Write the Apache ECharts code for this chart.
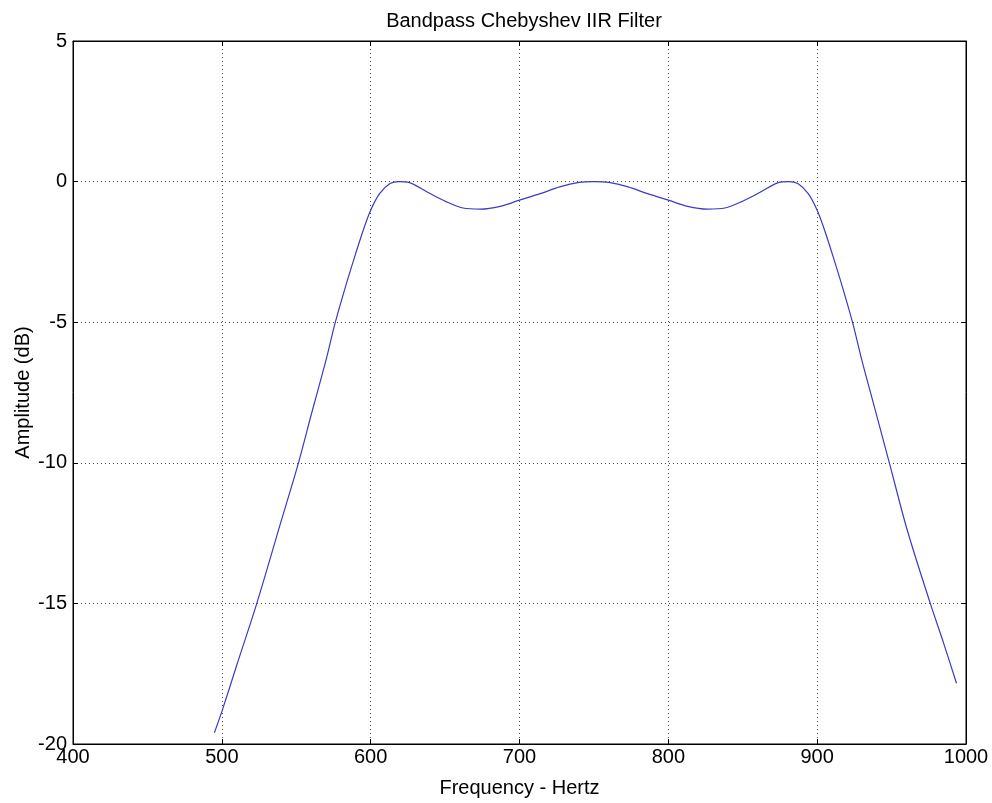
<!DOCTYPE html>
<html lang="en">
<head>
    <meta charset="utf-8">
    <title>Bandpass Chebyshev IIR Filter</title>
    <script src="https://cdn.jsdelivr.net/npm/echarts@6/dist/echarts.min.js"></script>
    <style>
        html, body { margin: 0; padding: 0; background: #fff; }
    </style>
</head>
<body>
<div id="main" style="width:992px;height:803px;"></div>
<script type="text/javascript">
    // frequency (Hz) and amplitude (dB)
    var freq = [495, 500, 510, 523.5, 540, 551.5, 560, 570, 576, 583, 588.5, 595, 600, 606, 613, 619, 625,
        638, 651, 662, 674, 687, 700, 714, 727, 740, 750, 760, 773, 786, 800, 813, 826, 838, 849, 862,
        875, 881, 887, 894, 900, 905, 911.5, 917, 924, 930, 936, 948.5, 960.5, 976, 985, 993.6];
    var amp = [-19.6, -18.85, -17.2, -15, -12.05, -10, -8.3, -6.35, -5.05, -3.75, -2.8, -1.73, -1.02, -0.43, -0.07, 0, -0.02,
        -0.37, -0.72, -0.94, -0.98, -0.88, -0.66, -0.43, -0.19, -0.03, 0, -0.03, -0.19, -0.43, -0.66, -0.88, -0.98, -0.94, -0.72, -0.37,
        -0.02, 0, -0.07, -0.43, -1.02, -1.73, -2.8, -3.75, -5.05, -6.35, -7.53, -10, -12.39, -15, -16.42, -17.84];
    var xTicks = [400, 500, 600, 700, 800, 900, 1000];
    var yTicks = [-20, -15, -10, -5, 0, 5];

    var points = [];
    for (var i = 0; i < freq.length; i++) {
        points.push([freq[i], amp[i]]);
    }

    var font = 'Liberation Sans, Arial, sans-serif';
    var fs = 20;
    var gridDots = {show: true, lineStyle: {color: '#444', width: 1, type: [1, 3]}};
    var plain = function (v) { return String(v); };

    var myChart = echarts.init(document.getElementById('main'));
    var option = {
        animation: false,
        backgroundColor: '#fff',
        title: {
            text: 'Bandpass Chebyshev IIR Filter',
            left: 519,
            textAlign: 'center',
            top: 6,
            textStyle: {fontFamily: font, fontSize: fs, fontWeight: 'normal', color: '#000'}
        },
        grid: {
            left: 73, right: 26, top: 41, bottom: 59,
            show: true, borderColor: '#000', borderWidth: 1
        },
        xAxis: [
            {
                type: 'value',
                min: xTicks[0], max: xTicks[xTicks.length - 1], interval: 100,
                name: 'Frequency - Hertz',
                nameLocation: 'middle',
                nameGap: 34,
                nameMoveOverlap: false,
                nameTextStyle: {fontFamily: font, fontSize: fs, color: '#000'},
                axisLine: {show: true, onZero: false, lineStyle: {color: '#000'}},
                axisTick: {show: true, inside: true, length: 5, lineStyle: {color: '#000'}},
                axisLabel: {fontFamily: font, fontSize: fs, color: '#000', margin: 3, formatter: plain},
                splitLine: gridDots
            },
            {
                type: 'value', position: 'top',
                min: xTicks[0], max: xTicks[xTicks.length - 1], interval: 100,
                axisLine: {show: true, onZero: false, lineStyle: {color: '#000'}},
                axisTick: {show: true, inside: true, length: 5, lineStyle: {color: '#000'}},
                axisLabel: {show: false},
                splitLine: {show: false}
            }
        ],
        yAxis: [
            {
                type: 'value',
                min: yTicks[0], max: yTicks[yTicks.length - 1], interval: 5,
                name: 'Amplitude (dB)',
                nameLocation: 'middle',
                nameRotate: 90,
                nameGap: 40,
                nameMoveOverlap: false,
                nameTextStyle: {fontFamily: font, fontSize: fs, color: '#000'},
                axisLine: {show: true, onZero: false, lineStyle: {color: '#000'}},
                axisTick: {show: true, inside: true, length: 5, lineStyle: {color: '#000'}},
                axisLabel: {fontFamily: font, fontSize: fs, color: '#000', margin: 6, formatter: plain},
                splitLine: gridDots
            },
            {
                type: 'value', position: 'right',
                min: yTicks[0], max: yTicks[yTicks.length - 1], interval: 5,
                axisLine: {show: true, onZero: false, lineStyle: {color: '#000'}},
                axisTick: {show: true, inside: true, length: 5, lineStyle: {color: '#000'}},
                axisLabel: {show: false},
                splitLine: {show: false}
            }
        ],
        series: [
            {
                name: 'Amplitude',
                type: 'line',
                data: points,
                showSymbol: false,
                smooth: 0.3,
                lineStyle: {color: '#3a3ac4', width: 1.2}
            }
        ]
    };
    myChart.setOption(option);
</script>
</body>
</html>
